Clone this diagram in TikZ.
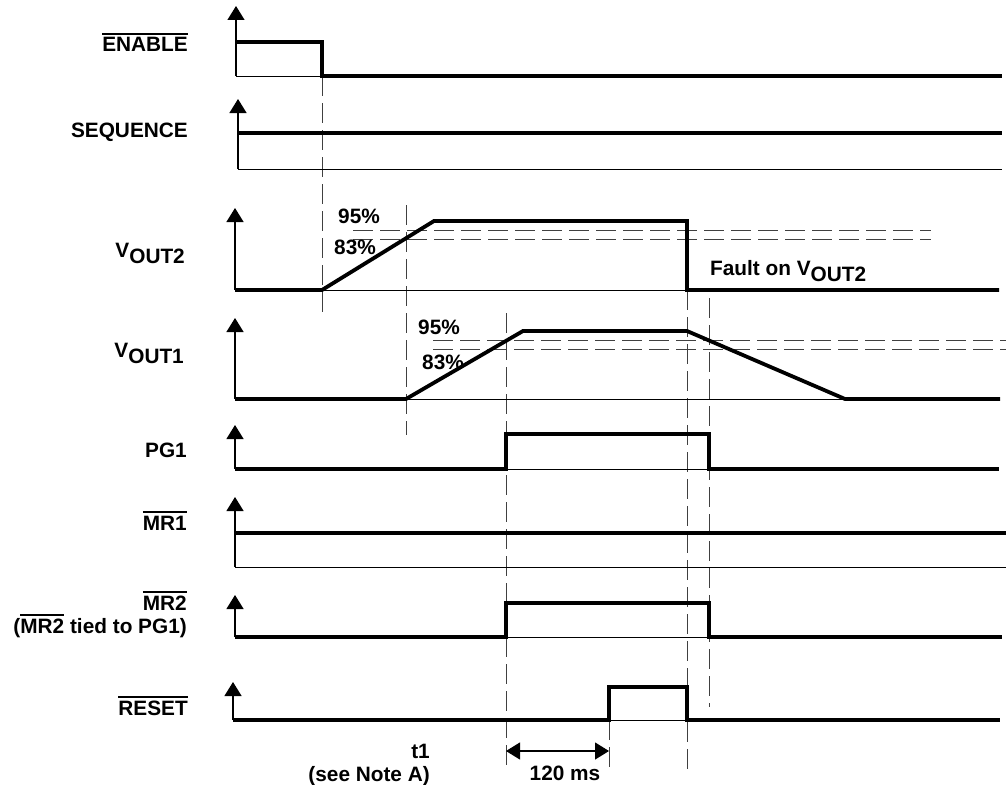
\documentclass[tikz,border=0pt]{standalone}
\usepackage{fontspec}
\setmainfont{Liberation Sans}
\usetikzlibrary{arrows.meta}
\newcommand\myovl[1]{\setbox0\hbox{#1}\rlap{\rule[\dimexpr\ht0+2.6pt\relax]{\wd0}{1.8pt}}\box0\relax}
\newcommand\mysub[1]{\raisebox{-6pt}{#1}}
\begin{document}
\begin{tikzpicture}[x=1pt,y=-1pt,
  font=\fontsize{20.8}{24}\selectfont\bfseries,
  sig/.style={line width=3.8pt,line join=miter},
  thinline/.style={line width=1pt},
  axisline/.style={line width=1.3pt,-{Triangle[length=14pt,width=17pt]}},
  guide/.style={line width=0.9pt,black!75,dash pattern=on 20pt off 7pt},
  lbl/.style={anchor=base east,inner sep=0pt},
  pct/.style={anchor=base,inner sep=0pt}]
\useasboundingbox (0,0) rectangle (1006,784);

% ---------- guide lines (dashed) ----------
\draw[guide] (322,76) -- (322,319);
\draw[guide] (406,205) -- (406,435);
\draw[guide] (506,313) -- (506,770);
\draw[guide] (609,720) -- (609,773);
\draw[guide] (687,290) -- (687,770);
\draw[guide] (709,298) -- (709,707);
\draw[guide] (353,230) -- (931,230);
\draw[guide] (353,239) -- (931,239);
\draw[guide] (433,340) -- (1006,340);
\draw[guide] (433,349) -- (1006,349);

% ---------- ENABLE ----------
\draw[axisline] (236,76) -- (236,6);
\draw[thinline] (236,76) -- (322,76);
\draw[sig] (236,42) -- (322,42) -- (322,76) -- (1002,76);
\node[lbl] (lenable) at (188,52) {\myovl{ENABLE}};

% ---------- SEQUENCE ----------
\draw[axisline] (238,169) -- (238,99);
\draw[thinline] (238,169) -- (1002,169);
\draw[sig] (238,133) -- (1002,133);
\node[lbl] (lseq) at (188,137) {SEQUENCE};

% ---------- VOUT2 ----------
\draw[axisline] (235,290) -- (235,208);
\draw[thinline] (235,290) -- (999,290);
\draw[sig] (235,290) -- (322,290) -- (434,221) -- (687,221) -- (687,290) -- (999,290);
\node[lbl] (lvout2) at (185,257) {V\mysub{OUT2}};
\node[pct] (p95a) at (359,223) {95\%};
\node[pct] (p83a) at (355,254) {83\%};
\node[anchor=base west,inner sep=0pt] (fault) at (710,275) {Fault on V\mysub{OUT2}};

% ---------- VOUT1 ----------
\draw[axisline] (235,399) -- (235,318);
\draw[thinline] (235,399) -- (1000,399);
\draw[sig] (235,399) -- (406,399) -- (523,331) -- (687,331) -- (845,399) -- (1000,399);
\node[lbl] (lvout1) at (184,357) {V\mysub{OUT1}};
\node[pct] (p95b) at (439,334) {95\%};
\node[pct] (p83b) at (443,369) {83\%};

% ---------- PG1 ----------
\draw[axisline] (235,469) -- (235,425);
\draw[thinline] (235,469) -- (999,469);
\draw[sig] (235,469) -- (506,469) -- (506,434) -- (709,434) -- (709,469) -- (999,469);
\node[lbl] (lpg1) at (187,457) {PG1};

% ---------- MR1 ----------
\draw[axisline] (235,567) -- (235,497);
\draw[thinline] (235,567) -- (1006,567);
\draw[sig] (235,533) -- (1006,533);
\node[lbl] (lmr1) at (187,530) {\myovl{MR1}};

% ---------- MR2 ----------
\draw[axisline] (235,637) -- (235,595);
\draw[thinline] (235,637) -- (1002,637);
\draw[sig] (235,637) -- (506,637) -- (506,603) -- (709,603) -- (709,637) -- (1002,637);
\node[lbl] (lmr2) at (187,610) {\myovl{MR2}};
\node[lbl] (lmr2b) at (187,633) {(\myovl{MR2} tied to PG1)};

% ---------- RESET ----------
\draw[axisline] (233,720) -- (233,682);
\draw[thinline] (233,720) -- (1000,720);
\draw[sig] (233,720) -- (609,720) -- (609,687) -- (687,687) -- (687,720) -- (1000,720);
\node[lbl] (lreset) at (188,715) {\myovl{RESET}};

% ---------- timing annotations ----------
\coordinate (ta) at (506,751);
\coordinate (tb) at (609,751);
\draw[line width=1.2pt,{Triangle[length=14pt,width=17pt]}-{Triangle[length=14pt,width=17pt]}] (ta) -- (tb);
\node[pct] (l120) at (565,780) {120 ms};
\node[lbl] (lt1) at (430,758) {t1};
\node[lbl] (lnote) at (430,781) {(see Note A)};
\end{tikzpicture}
\end{document}
